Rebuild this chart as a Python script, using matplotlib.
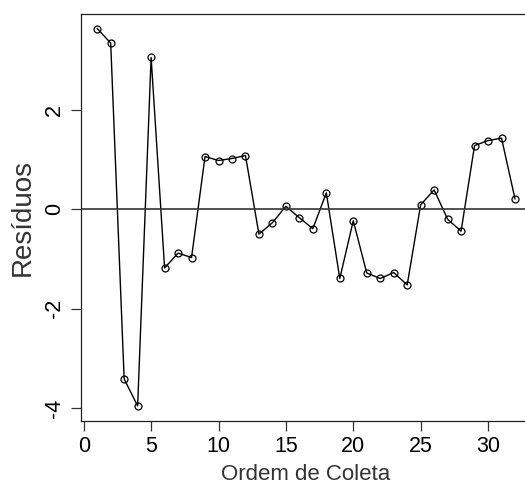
import matplotlib
matplotlib.use("Agg")
import matplotlib.pyplot as plt

# Residuals in collection order
ordem = list(range(1, 33))
residuos = [3.63, 3.34, -3.41, -3.95, 3.05, -1.18, -0.88, -0.97,
            1.06, 0.98, 1.02, 1.08, -0.50, -0.27, 0.06, -0.17,
            -0.39, 0.33, -1.39, -0.23, -1.28, -1.39, -1.27, -1.52,
            0.09, 0.39, -0.20, -0.44, 1.28, 1.38, 1.43, 0.21]
xticks = [0, 5, 10, 15, 20, 25, 30]
yticks = [-4, -2, 0, 2]

plt.rcParams["font.family"] = ["Liberation Sans", "DejaVu Sans"]

W, H = 525, 484
fig = plt.figure(figsize=(W / 100, H / 100), dpi=100)
left, right, top, bottom = 80.5, 531.7, 13.5, 421.0
ax = fig.add_axes([left / W, 1 - bottom / H, (right - left) / W, (bottom - top) / H])

ax.plot(ordem, residuos, color="black", lw=1.0, marker="o", ms=5,
        mfc="none", mec="black", mew=0.9)
ax.axhline(0, color="#333333", lw=1.2)

# R-style 4% padding on both axes
xr = max(ordem) - min(ordem)
yr = max(residuos) - min(residuos)
ax.set_xlim(min(ordem) - 0.04 * xr, max(ordem) + 0.04 * xr)
ax.set_ylim(min(residuos) - 0.04 * yr, max(residuos) + 0.04 * yr)

ax.set_xticks(xticks)
ax.set_yticks(yticks)
ax.set_xticklabels([str(t) for t in xticks])
ax.set_yticklabels([str(t) for t in yticks], rotation=90, va="center")
ax.tick_params(axis="both", length=7, width=0.9, labelsize=15.5, color="#333333")
ax.tick_params(axis="x", pad=3.5)
ax.tick_params(axis="y", pad=4)

for s in ax.spines.values():
    s.set_linewidth(0.9)
    s.set_color("#222222")

ax.set_xlabel("Ordem de Coleta", fontsize=16, color="#333333", labelpad=5)
ax.set_ylabel("Resíduos", fontsize=20, color="#333333", labelpad=6)

fig.savefig("out.png", dpi=100)
